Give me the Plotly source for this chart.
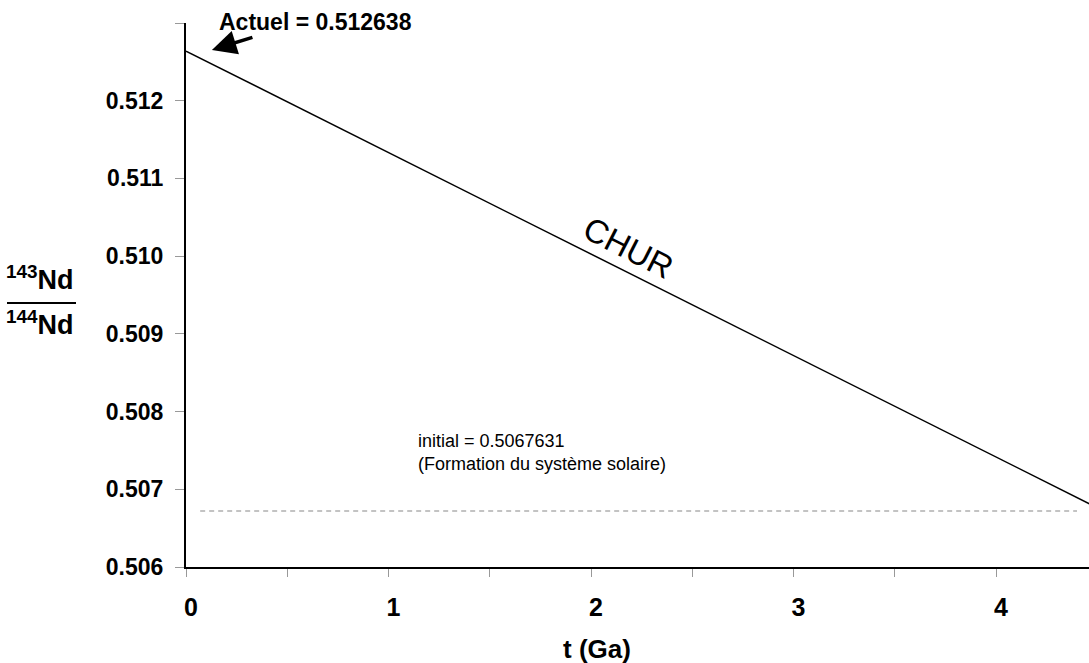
import plotly.graph_objects as go

# Data
t_chur = [0.0, 4.5]
nd_chur = [0.512638, 0.5067631]
t_initial = [0.07, 4.4]
nd_initial = [0.50672, 0.50672]
actuel_value = 0.512638
initial_value = 0.5067631

x_tickvals = [0, 1, 2, 3, 4]
x_ticktext = ["0", "1", "2", "3", "4"]
x_minorvals = [0.5, 1.5, 2.5, 3.5]
y_tickvals = [0.506, 0.507, 0.508, 0.509, 0.510, 0.511, 0.512]
y_ticktext = ["0.506", "0.507", "0.508", "0.509", "0.510", "0.511", "0.512"]
y_minorvals = [0.513]

FONT = "Liberation Sans, Arial, sans-serif"

fig = go.Figure()
fig.add_trace(go.Scatter(x=t_initial, y=nd_initial, mode="lines",
                         line=dict(color="#b0b0b0", width=1.5, dash="5px,4px"),
                         hoverinfo="skip", showlegend=False))
fig.add_trace(go.Scatter(x=t_chur, y=nd_chur, mode="lines",
                         line=dict(color="black", width=1.5),
                         showlegend=False))

W, H = 1089, 663
L, R, T, B = 186, 0, 23, 96
pw, ph = W - L - R, H - T - B

def px(xp):
    return (xp - L) / pw

def py(yp):
    return (H - B - yp) / ph

fig.update_layout(
    width=W, height=H,
    margin=dict(l=L, r=R, t=T, b=B, pad=0),
    plot_bgcolor="white", paper_bgcolor="white",
    font=dict(family=FONT, color="black"),
    xaxis=dict(range=[0, pw / 202.5], showgrid=False, zeroline=False,
               showline=True, linecolor="black", linewidth=2,
               tickmode="array", tickvals=x_tickvals, ticktext=x_ticktext,
               ticks="outside", ticklen=8, tickwidth=1, tickcolor="#999999",
               minor=dict(tickmode="array", tickvals=x_minorvals, ticks="outside",
                          ticklen=8, tickwidth=1, tickcolor="#999999", showgrid=False),
               tickfont=dict(size=25, family=FONT, weight="bold"),
               ticklabelshift=5, ticklabelstandoff=9),
    yaxis=dict(range=[0.506, 0.513], showgrid=False, zeroline=False,
               showline=True, linecolor="black", linewidth=2,
               tickmode="array", tickvals=y_tickvals, ticktext=y_ticktext,
               ticks="outside", ticklen=9, tickwidth=1, tickcolor="#999999",
               minor=dict(tickmode="array", tickvals=y_minorvals, ticks="outside",
                          ticklen=9, tickwidth=1, tickcolor="#999999", showgrid=False),
               tickfont=dict(size=23, family=FONT, weight="bold"),
               ticklabelstandoff=7),
)

ann = []
# x axis title
ann.append(dict(text="<b>t (Ga)</b>", xref="paper", yref="paper",
                x=px(597), y=py(649), xanchor="center", yanchor="middle",
                showarrow=False, font=dict(size=26, family=FONT)))
# y axis title fraction
ann.append(dict(text="<b><sup>143</sup>Nd</b>", xref="paper", yref="paper",
                x=px(40), y=py(278), xanchor="center", yanchor="middle",
                showarrow=False, font=dict(size=27, family=FONT)))
ann.append(dict(text="<b><sup>144</sup>Nd</b>", xref="paper", yref="paper",
                x=px(40), y=py(323), xanchor="center", yanchor="middle",
                showarrow=False, font=dict(size=27, family=FONT)))
# Actuel label
ann.append(dict(text="<b>Actuel = %s</b>" % f"{actuel_value:.6f}",
                xref="paper", yref="paper", x=px(217), y=py(22),
                xanchor="left", yanchor="middle", showarrow=False,
                font=dict(size=23, family=FONT)))
# arrow
ann.append(dict(text="", x=0.128, y=0.512654, xref="x", yref="y",
                ax=42, ay=-13, axref="pixel", ayref="pixel",
                showarrow=True, arrowhead=2, arrowsize=1.4, arrowwidth=3.5,
                arrowcolor="black"))
# initial label
ann.append(dict(text="initial = %s<br>(Formation du système solaire)" % f"{initial_value:.7f}",
                xref="paper", yref="paper", x=px(416), y=py(452),
                xanchor="left", yanchor="middle", align="left", showarrow=False,
                font=dict(size=18, family=FONT)))
# CHUR label
ann.append(dict(text="CHUR", xref="paper", yref="paper", x=px(628), y=py(247),
                xanchor="center", yanchor="middle", textangle=27, showarrow=False,
                font=dict(size=33, family=FONT)))
fig.update_layout(annotations=ann)

fig.add_shape(type="line", xref="paper", yref="paper",
              x0=px(7), x1=px(76), y0=py(303), y1=py(303),
              line=dict(color="black", width=2))

fig.write_html("out.html")
